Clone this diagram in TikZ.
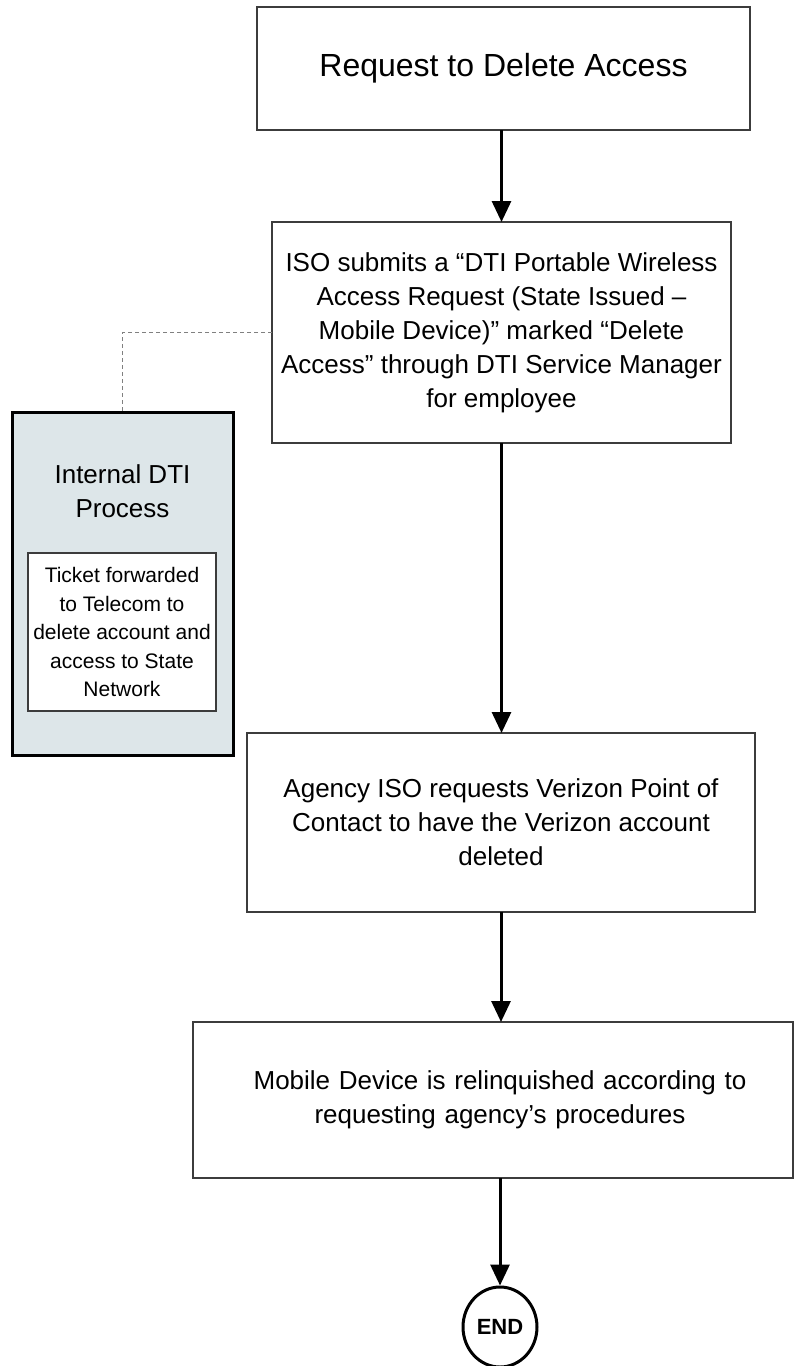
\documentclass[tikz,border=0pt]{standalone}
\usepackage{fontspec}
\setmainfont{Liberation Sans}
\usetikzlibrary{arrows.meta,shapes.geometric}
\definecolor{boxline}{RGB}{60,60,60}
\definecolor{dtifill}{RGB}{221,230,233}
\tikzset{
  procbox/.style={draw=boxline, line width=1.3pt, fill=white, inner sep=0pt, outer sep=0pt, align=center, font=\fontsize{26}{34}\selectfont},
  flowarr/.style={line width=3pt, -{Triangle[width=19pt,length=21pt]}},
  dashlink/.style={draw=gray, line width=1pt, dash pattern=on 4pt off 3pt},
}
\begin{document}
\begin{tikzpicture}[x=1pt,y=-1pt]
\useasboundingbox (0,0) rectangle (794,1366);
\node[procbox, minimum width=493pt, minimum height=123pt, font=\fontsize{32}{38}\selectfont] (b1) at (503.5,68.5) {Request to Delete Access};
\node[procbox, minimum width=459pt, minimum height=221pt] (b2) at (501.5,332.5) {ISO submits a “DTI Portable Wireless\\Access Request (State Issued –\\Mobile Device)” marked “Delete\\Access” through DTI Service Manager\\for employee};
\node[procbox, minimum width=508pt, minimum height=179pt] (b3) at (501,822.5) {Agency ISO requests Verizon Point of\\Contact to have the Verizon account\\deleted};
\node[procbox, minimum width=600pt, minimum height=156pt, text width=600pt, align=center] (b4) at (493,1100) {\hspace*{14pt}Mobile Device is relinquished according to\\\hspace*{14pt}requesting agency’s procedures};
\node[draw=black, line width=3pt, fill=dtifill, minimum width=221pt, minimum height=343pt, inner sep=0pt] (dti) at (122.5,583.5) {};
\node[align=center, font=\fontsize{26}{34}\selectfont, inner sep=0pt] (dtititle) at (122.5,491) {Internal DTI\\Process};
\node[draw=boxline, line width=1.2pt, fill=white, minimum width=188pt, minimum height=158pt, inner sep=0pt, align=center, font=\fontsize{21}{28.5}\selectfont] (ticket) at (122,632) {Ticket forwarded\\to Telecom to\\delete account and\\access to State\\Network};
\node[ellipse, draw=black, line width=3pt, fill=white, minimum width=74pt, minimum height=80pt, inner sep=0pt, font=\fontsize{22}{26}\selectfont\bfseries] (end) at (500,1327) {END};
\draw[flowarr] (b1.south -| b2.north) -- (b2.north);
\draw[flowarr] (b2.south) -- (b3.north -| b2.south);
\draw[flowarr] (b3.south) -- (b4.north -| b3.south);
\draw[flowarr] (b4.south -| end.north) -- (end.north);
\draw[dashlink] (b2.west) -| (dti.north);
\end{tikzpicture}
\end{document}
